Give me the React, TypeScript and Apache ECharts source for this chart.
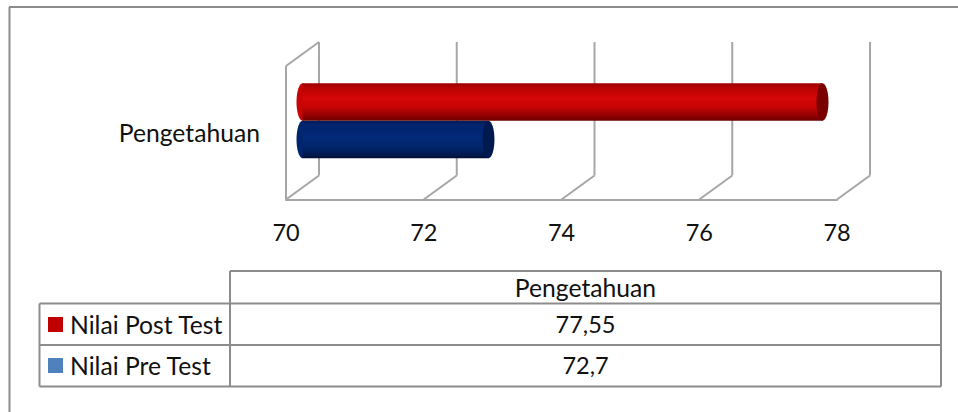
import React, { useEffect, useRef } from "react";
import * as echarts from "echarts";

const categories = ["Pengetahuan"];
const seriesNames = ["Nilai Post Test", "Nilai Pre Test"];
const postValues = [77.55];
const preValues = [72.7];
const ticks = [70, 72, 74, 76, 78];
const valueLabels = ["77,55", "72,7"];

const FONT = "Lato";
const WORD_SIZE = 24.7;
const DIGIT_SIZE = 23.5;
const GRID = "#a6a6a6";
const TABLE = "#8c8c8c";
const DX = 33;
const DY = 24;

function gradient(stops: [number, string][]) {
  return new echarts.graphic.LinearGradient(0, 0, 0, 1, stops.map(([offset, color]) => ({ offset, color })));
}

function wallItem(params: any, api: any) {
  const v = api.value(0);
  const [x, y0] = api.coord([v, categories[0]]);
  const size = api.size([0, 1])[1];
  const bottom = y0 + size / 2;
  const top = y0 - size / 2;
  const style = { stroke: GRID, lineWidth: 2, fill: "none" };
  const children: any[] = [
    { type: "line", shape: { x1: x, y1: bottom, x2: x + DX, y2: bottom - DY }, style },
    { type: "line", shape: { x1: x + DX, y1: bottom - DY, x2: x + DX, y2: top - DY }, style },
  ];
  if (params.dataIndex === 0) {
    children.push({ type: "line", shape: { x1: x, y1: bottom, x2: x, y2: top }, style });
    children.push({ type: "line", shape: { x1: x, y1: top, x2: x + DX, y2: top - DY }, style });
  }
  return { type: "group", children };
}

function cylinder(stops: [number, string][], capColor: string, leftColor: string, side: number) {
  return (_params: any, api: any) => {
    const [x0, yc] = api.coord([70, categories[0]]);
    const [x1] = api.coord([api.value(0), categories[0]]);
    const h = 37.5;
    const rx = 6;
    const cy = yc - DY / 2 + side * (h / 2);
    const left = x0 + DX / 2;
    const right = x1 + DX / 2;
    const top = cy - h / 2;
    return {
      type: "group",
      children: [
        { type: "ellipse", shape: { cx: left, cy, rx, ry: h / 2 }, style: { fill: leftColor } },
        { type: "rect", shape: { x: left, y: top, width: right - left, height: h }, style: { fill: gradient(stops) } },
        { type: "ellipse", shape: { cx: right, cy, rx, ry: h / 2 }, style: { fill: capColor } },
      ],
    };
  };
}

const redStops: [number, string][] = [
  [0, "#9c0000"], [0.12, "#b80303"], [0.4, "#d60606"], [0.62, "#c80404"], [0.85, "#950202"], [1, "#6e0000"],
];
const blueStops: [number, string][] = [
  [0, "#001f5c"], [0.15, "#00256f"], [0.45, "#022a78"], [0.7, "#01256a"], [0.9, "#001a50"], [1, "#001038"],
];

function tableGraphics() {
  const left = 39.5, col = 230, right = 941, y0 = 271, y1 = 303.5, y2 = 345, y3 = 386.5;
  const line = (x1: number, y1a: number, x2: number, y2a: number) => ({
    type: "line",
    shape: { x1, y1: y1a, x2, y2: y2a },
    style: { stroke: TABLE, lineWidth: 2 },
  });
  const text = (x: number, y: number, t: string, align: string, size: number) => ({
    type: "text",
    x,
    y,
    style: { text: t, font: `${size}px ${FONT}`, fill: "#111111", align, verticalAlign: "middle" },
  });
  const mid = (col + right) / 2;
  return [
    line(9, 7, 958, 7),
    line(9.5, 7, 9.5, 412),
    line(col, y0, right, y0),
    line(left, y1, right, y1),
    line(left, y2, right, y2),
    line(left, y3, right, y3),
    line(left, y1, left, y3),
    line(col, y0, col, y3),
    line(right, y0, right, y3),
    { type: "rect", shape: { x: 48, y: 317, width: 15, height: 15 }, style: { fill: "#c00000" } },
    { type: "rect", shape: { x: 48, y: 358, width: 15, height: 15 }, style: { fill: "#4f81bd" } },
    text(70, 324, seriesNames[0], "left", WORD_SIZE),
    text(70, 365, seriesNames[1], "left", WORD_SIZE),
    text(mid, 287, categories[0], "center", WORD_SIZE),
    text(mid, 324, valueLabels[0], "center", DIGIT_SIZE),
    text(mid, 365, valueLabels[1], "center", DIGIT_SIZE),
  ];
}

export default function App() {
  const ref = useRef<HTMLDivElement>(null);
  useEffect(() => {
    const chart = echarts.init(ref.current!, undefined, { renderer: "svg" });
    chart.setOption({
      animation: false,
      backgroundColor: "#ffffff",
      grid: { left: 286, right: 121, top: 66, height: 133.5 },
      xAxis: {
        type: "value",
        min: 70,
        max: 78,
        interval: 2,
        splitLine: { show: false },
        axisTick: { show: false },
        axisLine: { show: true, onZero: false, lineStyle: { color: GRID, width: 2 } },
        axisLabel: { fontFamily: FONT, fontSize: DIGIT_SIZE, color: "#111111", margin: 20 },
      },
      yAxis: {
        type: "category",
        data: categories,
        axisLine: { show: false },
        axisTick: { show: false },
        axisLabel: { fontFamily: FONT, fontSize: WORD_SIZE, color: "#111111", margin: 26 },
      },
      series: [
        { type: "custom", name: "walls", renderItem: wallItem, data: ticks.map((t) => [t]), silent: true, z: 1, clip: false, encode: { x: 0 } },
        { type: "custom", name: seriesNames[1], renderItem: cylinder(blueStops, "#001a50", "#00256f", 1), data: preValues.map((v) => [v]), z: 2, clip: false, encode: { x: 0 } },
        { type: "custom", name: seriesNames[0], renderItem: cylinder(redStops, "#7a0000", "#c80404", -1), data: postValues.map((v) => [v]), z: 3, clip: false, encode: { x: 0 } },
      ],
      graphic: tableGraphics(),
    });
    return () => chart.dispose();
  }, []);
  return <div ref={ref} style={{ position: "absolute", left: 0, top: 0, width: 958, height: 412 }} />;
}
